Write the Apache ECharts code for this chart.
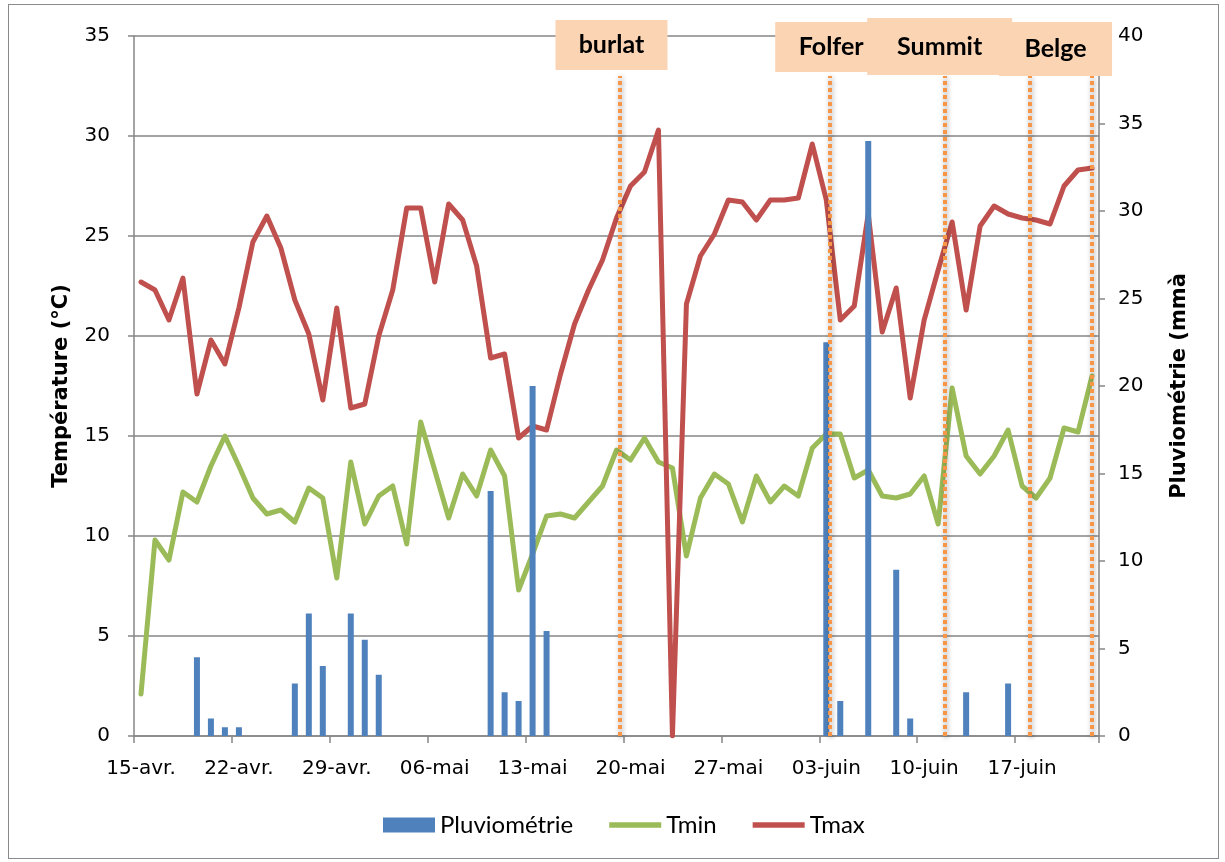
<!DOCTYPE html>
<html><head><meta charset="utf-8">
<script src="https://cdn.jsdelivr.net/npm/echarts@6/dist/echarts.min.js"></script>
<style>
html,body{margin:0;padding:0;background:#fff;}
#c{position:absolute;left:0;top:0;width:1225px;height:862px;}
#frame{position:absolute;left:8px;top:4px;width:1209px;height:853px;border:1px solid #8a8a8a;pointer-events:none;}
</style></head>
<body><div id="c"></div><div id="frame"></div>
<script>
// ---- data ----
const categories = [
 '15-avr.','16-avr.','17-avr.','18-avr.','19-avr.','20-avr.','21-avr.','22-avr.','23-avr.','24-avr.','25-avr.','26-avr.','27-avr.','28-avr.','29-avr.','30-avr.',
 '01-mai','02-mai','03-mai','04-mai','05-mai','06-mai','07-mai','08-mai','09-mai','10-mai','11-mai','12-mai','13-mai','14-mai','15-mai','16-mai','17-mai','18-mai','19-mai','20-mai','21-mai','22-mai','23-mai','24-mai','25-mai','26-mai','27-mai','28-mai','29-mai','30-mai','31-mai',
 '01-juin','02-juin','03-juin','04-juin','05-juin','06-juin','07-juin','08-juin','09-juin','10-juin','11-juin','12-juin','13-juin','14-juin','15-juin','16-juin','17-juin','18-juin','19-juin','20-juin','21-juin','22-juin'
];
const pluviometrie = [
 null,null,null,null,4.5,1.0,0.5,0.5,null,null,null,3.0,7.0,4.0,null,7.0,
 5.5,3.5,null,null,null,null,null,null,null,14.0,2.5,2.0,20.0,6.0,null,null,null,null,null,null,null,null,null,null,null,null,null,null,null,null,null,
 null,null,22.5,2.0,null,34.0,null,9.5,1.0,null,null,null,2.5,null,null,3.0,null,null,null,null,null,null
];
const tmin = [
 2.1,9.8,8.8,12.2,11.7,13.5,15.0,13.5,11.9,11.1,11.3,10.7,12.4,11.9,7.9,13.7,
 10.6,12.0,12.5,9.6,15.7,13.3,10.9,13.1,12.0,14.3,13.0,7.3,9.1,11.0,11.1,10.9,11.7,12.5,14.3,13.8,14.9,13.7,13.4,9.0,11.9,13.1,12.6,10.7,13.0,11.7,12.5,
 12.0,14.4,15.1,15.1,12.9,13.3,12.0,11.9,12.1,13.0,10.6,17.4,14.0,13.1,14.0,15.3,12.5,11.9,12.9,15.4,15.2,18.0
];
const tmax = [
 22.7,22.3,20.8,22.9,17.1,19.8,18.6,21.4,24.7,26.0,24.4,21.8,20.1,16.8,21.4,16.4,
 16.6,20.0,22.3,26.4,26.4,22.7,26.6,25.8,23.5,18.9,19.1,14.9,15.5,15.3,18.1,20.6,22.3,23.8,25.9,27.5,28.2,30.3,0,21.6,24.0,25.1,26.8,26.7,25.8,26.8,26.8,
 26.9,29.6,26.8,20.8,21.5,26.1,20.2,22.4,16.9,20.8,23.3,25.7,21.3,25.5,26.5,26.1,25.9,25.8,25.6,27.5,28.3,28.4
];
const markerNames = ['burlat','Folfer','Summit','Belge',''];
const markerDays  = [34.75, 49.76, 57.98, 64.02, 68.5];   // position along the date axis, in days from 15-avr.
const tempAxis = {min:0, max:35, step:5};
const rainAxis = {min:0, max:40, step:5};

// ---- styles (not data) ----
const boxSizes   = [[112,50],[112,50],[145,57],[113,54]];
const boxOffsets = [[-8.5,9],[1.3,11],[-5.2,10.5],[26.2,13]];
const lineTopTemp = 33;
const gridColor = '#868686';
const tickFont = 'DejaVu Sans';
const calFont = 'Lato';
const lineIcon = 'path://M0,0 L54,0 L54,5.5 L0,5.5 Z';

const chart = echarts.init(document.getElementById('c'), null, {renderer:'canvas'});

const markLineData = markerDays.map(d => [{coord:[d, 0]}, {coord:[d, lineTopTemp]}]);
const markPointData = [];
markerNames.forEach((n, i) => {
  if (!n) return;
  markPointData.push({
    name: n,
    coord: [markerDays[i], tempAxis.max],
    symbol: 'rect',
    symbolSize: boxSizes[i],
    symbolOffset: boxOffsets[i]
  });
});

const axisNameStyle = {fontFamily: 'DejaVu Sans', fontWeight: 'bold', fontSize: 21, color: '#000'};

chart.setOption({
  animation: false,
  backgroundColor: '#fff',
  grid: {left: 134, right: 126, top: 36, bottom: 126, containLabel: false},
  legend: {
    data: [{name:'Pluviométrie', icon:'rect'}, {name:'Tmin', icon: lineIcon}, {name:'Tmax', icon: lineIcon}],
    left: 383, top: 813, padding: 0,
    itemWidth: 52, itemHeight: 15, itemGap: 36, symbolKeepAspect: true,
    textStyle: {fontFamily: calFont, fontSize: 24, color: '#000'},
    selectedMode: false
  },
  xAxis: [{
    type: 'category',
    data: categories,
    boundaryGap: true,
    axisLine: {show: true, lineStyle: {color: gridColor, width: 1.5}},
    axisTick: {show: true, interval: 6, length: 7, lineStyle: {color: gridColor, width: 1.5}},
    axisLabel: {interval: 6, fontFamily: tickFont, fontSize: 20, color: '#000', margin: 23},
    splitLine: {show: false}
  }, {
    type: 'value', min: 0, max: categories.length, show: false, gridIndex: 0
  }],
  yAxis: [{
    type: 'value', min: tempAxis.min, max: tempAxis.max, interval: tempAxis.step,
    name: 'Température (°C)', nameLocation: 'middle', nameRotate: 90, nameGap: 62,
    nameTextStyle: axisNameStyle,
    axisLine: {show: true, lineStyle: {color: gridColor, width: 1.5}},
    axisTick: {show: true, length: 6, lineStyle: {color: gridColor, width: 1.5}},
    axisLabel: {fontFamily: tickFont, fontSize: 20, color: '#000', margin: 24},
    splitLine: {show: true, lineStyle: {color: gridColor, width: 1.5}}
  }, {
    type: 'value', min: rainAxis.min, max: rainAxis.max, interval: rainAxis.step, position: 'right',
    name: 'Pluviométrie (mmà', nameLocation: 'middle', nameRotate: 90, nameGap: 70,
    nameTextStyle: axisNameStyle,
    axisLine: {show: true, lineStyle: {color: gridColor, width: 1.5}},
    axisTick: {show: true, length: 6, lineStyle: {color: gridColor, width: 1.5}},
    axisLabel: {fontFamily: tickFont, fontSize: 20, color: '#000', margin: 19},
    splitLine: {show: false}
  }],
  series: [
    {
      name: 'Tmin', type: 'line', data: tmin, xAxisIndex: 0, yAxisIndex: 0,
      symbol: 'none', z: 2,
      lineStyle: {color: '#9BBB59', width: 5, cap: 'round', join: 'round'},
      itemStyle: {color: '#9BBB59'}
    },
    {
      name: 'Tmax', type: 'line', data: tmax, xAxisIndex: 0, yAxisIndex: 0,
      symbol: 'none', z: 2,
      lineStyle: {color: '#C0504D', width: 5, cap: 'round', join: 'round'},
      itemStyle: {color: '#C0504D'}
    },
    {
      name: 'Pluviométrie', type: 'bar', data: pluviometrie, xAxisIndex: 0, yAxisIndex: 1,
      barWidth: 6, z: 3,
      itemStyle: {color: '#4F81BD'}
    },
    {
      name: 'markers', type: 'line', data: [], xAxisIndex: 1, yAxisIndex: 0, z: 5,
      symbol: 'none',
      markLine: {
        silent: true, symbol: ['none','none'], animation: false,
        label: {show: false},
        lineStyle: {color: '#F79646', width: 4, type: [4,3], cap: 'butt',
          shadowBlur: 5, shadowColor: 'rgba(0,0,0,0.4)', shadowOffsetX: 1, shadowOffsetY: 1},
        emphasis: {disabled: true},
        data: markLineData
      },
      markPoint: {
        silent: true, animation: false,
        itemStyle: {color: '#FBD4B4'},
        label: {show: true, position: 'inside', formatter: '{b}', color: '#000',
          fontFamily: calFont, fontWeight: 'bold', fontSize: 25},
        emphasis: {disabled: true},
        data: markPointData
      }
    }
  ]
});
</script>
</body></html>
